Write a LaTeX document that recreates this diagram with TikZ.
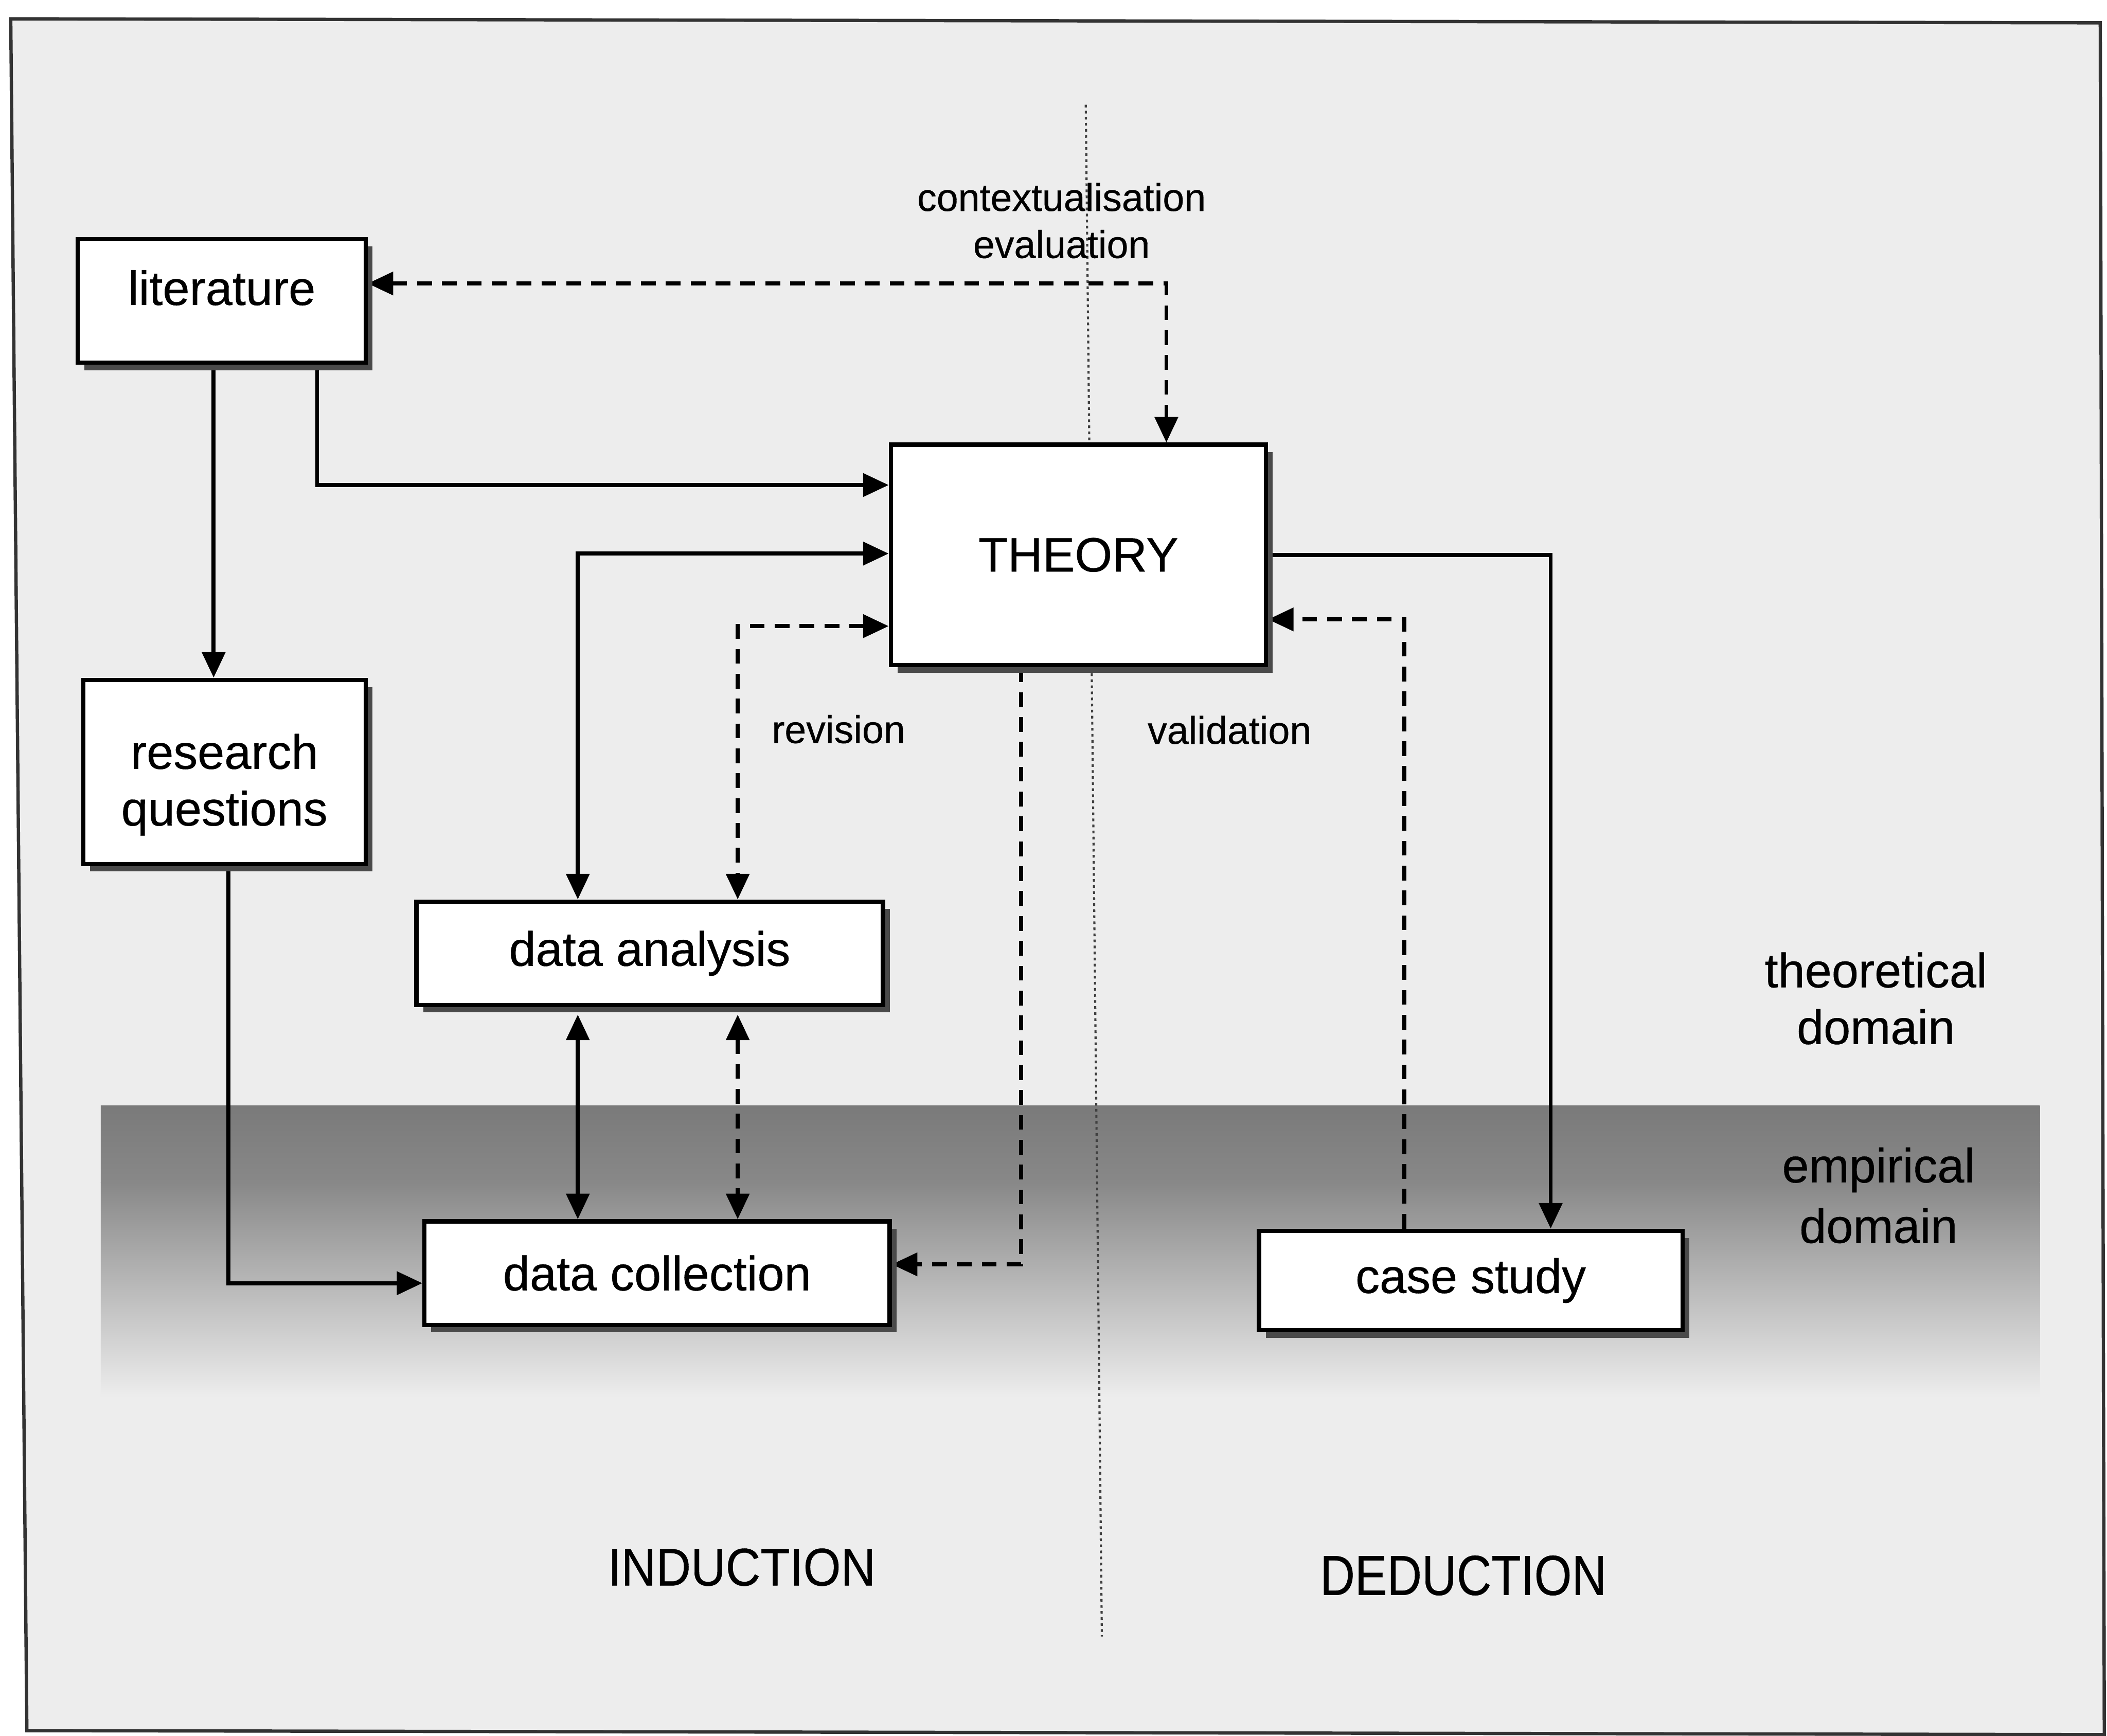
\documentclass[tikz,border=0pt]{standalone}
\usepackage{fontspec}
\setmainfont{Liberation Sans}
\newfontfamily\inkfont{Liberation Sans}[FakeBold=0.45]
\usetikzlibrary{arrows.meta,shadows}

\definecolor{paper}{HTML}{EDEDED}
\definecolor{framegray}{HTML}{333333}
\definecolor{bandtop}{HTML}{7A7A7A}
\definecolor{bandmid}{HTML}{888888}
\definecolor{shadowgray}{HTML}{4A4A4A}

\pgfdeclarelayer{background}
\pgfdeclarelayer{lines}
\pgfsetlayers{background,lines,main}

\tikzset{
  box/.style={draw=black, line width=0.9pt, fill=white, inner sep=0pt,
    font=\inkfont\fontsize{10.2}{12}\selectfont,
    drop shadow={shadow xshift=0.05cm, shadow yshift=-0.055cm,
                 fill=shadowgray, opacity=1}},
  lbl/.style={inner sep=0pt, font=\inkfont\fontsize{8.2}{10}\selectfont},
  dom/.style={inner sep=0pt, font=\inkfont\fontsize{10.2}{12}\selectfont},
  conn/.style={line width=0.85pt, draw=black},
  dashconn/.style={conn, dash pattern=on 0.11cm off 0.075cm},
  divider/.style={line width=0.45pt, draw=black!75, dash pattern=on 0.02cm off 0.025cm}
}

\begin{document}
\begin{tikzpicture}[x=0.01cm, y=-0.01cm,
    >={Triangle[length=0.19cm,width=0.17cm]}]
  \useasboundingbox (0,0) rectangle (1568,1292);

  % paper, frame, empirical band and the induction/deduction divider
  \begin{pgfonlayer}{background}
    \fill[white] (0,0) rectangle (1568,1292);
    \filldraw[fill=paper, draw=framegray, line width=0.7pt]
      (8,14) -- (1563,17) -- (1566,1291) -- (20,1288) -- cycle;
    \shade[top color=bandtop, bottom color=bandmid] (75,823) rectangle (1518,880);
    \shade[top color=bandmid, bottom color=paper] (75,880) rectangle (1518,1040);
    \coordinate (divtop) at (808,78);
    \coordinate (divbot) at (820,1218);
    \draw[divider] (divtop) -- (divbot);
  \end{pgfonlayer}

  % boxes
  \node[box, minimum width=2.14cm, minimum height=0.92cm, text depth=0.2cm]
    (lit) at (165,224) {literature};
  \node[box, minimum width=2.79cm, minimum height=1.64cm] (theory) at (802.5,413) {THEORY};
  \node[box, minimum width=2.10cm, minimum height=1.37cm] (rq) at (167,574.5) {};
  \node[dom, align=center] (rqtext) at (167,584) {research\\questions};
  \node[box, minimum width=3.47cm, minimum height=0.77cm] (da) at (483.5,709.5) {data analysis};
  \node[box, minimum width=3.46cm, minimum height=0.77cm] (dc) at (489,947.5) {data collection};
  \node[box, minimum width=3.15cm, minimum height=0.74cm] (cs) at (1094.5,953) {case study};

  % labels
  \node[lbl, anchor=base] (ctx) at (790,157) {contextualisation};
  \node[lbl, anchor=base] (eva) at (790,192) {evaluation};
  \node[lbl, anchor=base] (rev) at (624,553) {revision};
  \node[lbl, anchor=base] (val) at (915,553.6) {validation};
  \node[dom, anchor=base] (theo1) at (1396,734.8) {theoretical};
  \node[dom, anchor=base] (theo2) at (1396,777) {domain};
  \node[dom, anchor=base] (emp1) at (1398,880) {empirical};
  \node[dom, anchor=base] (emp2) at (1398,925) {domain};
  \node[dom, anchor=base] (ind) at (552,1180) {\scalebox{1}[1.1]{INDUCTION}};
  \node[dom, anchor=base] (ded) at (1089,1187) {\scalebox{1}[1.17]{DEDUCTION}};

  % bends of the connectors
  \coordinate (c1) at (868,211);
  \coordinate (c2) at (236,361);
  \coordinate (c3) at (430,412);
  \coordinate (c4) at (549,466);
  \coordinate (c5) at (170,955);
  \coordinate (c6) at (760,941);
  \coordinate (c7) at (1154,413);
  \coordinate (c8) at (1045,461);

  \begin{pgfonlayer}{lines}
    % contextualisation / evaluation
    \draw[dashconn, <->] (lit.east |- c1) -- (c1) -- (theory.north -| c1);
    % literature to research questions and to theory
    \draw[conn, ->] ([xshift=-0.06cm]lit.south) -- ([xshift=-0.06cm]lit.south |- rq.north);
    \draw[conn, ->] (lit.south -| c2) -- (c2) -- (theory.west |- c2);
    % theory and data analysis
    \draw[conn, <->] (theory.west |- c3) -- (c3) -- (da.north -| c3);
    \draw[dashconn, <->] (theory.west |- c4) -- (c4) -- (da.north -| c4);
    % data analysis and data collection
    \draw[conn, <->] ([yshift=-0.055cm]da.south -| c3) -- (dc.north -| c3);
    \draw[dashconn, <->] ([yshift=-0.055cm]da.south -| c4) -- (dc.north -| c4);
    % research questions to data collection
    \draw[conn, ->] (rq.south -| c5) -- (c5) -- (dc.west |- c5);
    % theory to data collection
    \draw[dashconn, ->] (theory.south -| c6) -- (c6) -- (dc.east |- c6);
    % deduction: theory to case study, validation back
    \draw[conn, ->] (theory.east |- c7) -- (c7) -- (cs.north -| c7);
    \draw[dashconn, ->] (cs.north -| c8) -- (c8) -- (theory.east |- c8);
  \end{pgfonlayer}
\end{tikzpicture}
\end{document}
